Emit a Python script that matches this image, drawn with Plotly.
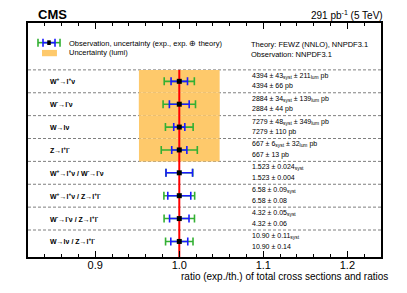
import numpy as np
import plotly.graph_objects as go

# ---------------- data ----------------
labels = [
    "W<sup>+</sup>→l<sup>+</sup>ν",
    "W<sup>-</sup>→l<sup>-</sup>ν",
    "W→lν",
    "Z→l<sup>+</sup>l<sup>-</sup>",
    "W<sup>+</sup>→l<sup>+</sup>ν / W<sup>-</sup>→l<sup>-</sup>ν",
    "W<sup>+</sup>→l<sup>+</sup>ν / Z→l<sup>+</sup>l<sup>-</sup>",
    "W<sup>-</sup>→l<sup>-</sup>ν / Z→l<sup>+</sup>l<sup>-</sup>",
    "W→lν / Z→l<sup>+</sup>l<sup>-</sup>",
]
values = [4394, 2884, 7279, 667, 1.523, 6.58, 4.32, 10.90]
decimals = [0, 0, 0, 0, 3, 2, 2, 2]
syst = [43, 34, 48, 6, 0.024, 0.09, 0.05, 0.11]
lumi = [211, 139, 349, 32, None, None, None, None]
theory = [66, 44, 110, 13, 0.004, 0.08, 0.06, 0.14]
ratio = [1.0, 1.0, 1.0, 1.0, 1.0, 1.0, 1.0, 1.0]

x_range = [0.82, 1.24]
y_range = [-7.68, 2.55]

FONT = "Liberation Sans, Arial, sans-serif"
GREEN = "#33b033"
BLUE = "#1a1aff"
ORANGE = "#fec96b"

n = len(labels)
ypos = -np.arange(n)
vals = np.array(values, dtype=float)
rel_exp = np.array(syst) / vals
rel_tot = np.hypot(np.array(syst), np.array(theory)) / vals

fig = go.Figure()

# dashed separators
for i in range(n):
    fig.add_shape(type="line", xref="paper", x0=0, x1=1, yref="y",
                  y0=ypos[i] + 0.5, y1=ypos[i] + 0.5,
                  line=dict(color="#7f7f7f", width=1, dash="3px,2px"), layer="below")

# lumi uncertainty boxes
for i in range(n):
    if lumi[i] is not None:
        rl = lumi[i] / values[i]
        fig.add_shape(type="rect", xref="x", yref="y",
                      x0=1 - rl, x1=1 + rl, y0=ypos[i] - 0.5, y1=ypos[i] + 0.5,
                      fillcolor=ORANGE, line=dict(width=0), layer="below")

# total uncertainty (green)
fig.add_trace(go.Scatter(
    x=ratio, y=ypos, mode="markers", marker=dict(size=1, color=GREEN, opacity=0),
    error_x=dict(type="data", array=rel_tot, color=GREEN, thickness=1.6, width=4),
    showlegend=False, hoverinfo="skip"))
# experimental uncertainty (blue)
fig.add_trace(go.Scatter(
    x=ratio, y=ypos, mode="markers", marker=dict(size=1, color=BLUE, opacity=0),
    error_x=dict(type="data", array=rel_exp, color=BLUE, thickness=1.6, width=4),
    showlegend=False, hoverinfo="skip"))
# reference line at ratio 1
fig.add_trace(go.Scatter(
    x=[1.0, 1.0], y=[y_range[0], ypos[0] + 0.5], mode="lines",
    line=dict(color="#ff0000", width=2), showlegend=False, hoverinfo="skip"))
# central points
fig.add_trace(go.Scatter(
    x=ratio, y=ypos, mode="markers",
    marker=dict(symbol="square", size=5, color="black"),
    showlegend=False))

ann = []
# row labels and numbers
for i in range(n):
    ann.append(dict(x=0.057, xref="paper", y=ypos[i], yref="y", text="<b>" + labels[i] + "</b>",
                    showarrow=False, xanchor="left", yanchor="middle",
                    font=dict(family=FONT, size=7, color="black")))
    d = decimals[i]
    v = f"{values[i]:.{d}f}"
    s = f"{syst[i]:.{d}f}" if d > 0 else f"{syst[i]}"
    t = f"{theory[i]:.{d}f}" if d > 0 else f"{theory[i]}"
    if lumi[i] is not None:
        l1 = f"{v} ± {s}<sub>syst</sub> ± {lumi[i]}<sub>lum</sub> pb"
        l2 = f"{v} ± {t} pb"
    else:
        l1 = f"{v} ± {s}<sub>syst</sub>"
        l2 = f"{v} ± {t}"
    ann.append(dict(x=0.63, xref="paper", y=ypos[i] + 0.24, yref="y", text=l1,
                    showarrow=False, xanchor="left", yanchor="middle", align="left",
                    font=dict(family=FONT, size=7, color="black")))
    ann.append(dict(x=0.63, xref="paper", y=ypos[i] - 0.22, yref="y", text=l2,
                    showarrow=False, xanchor="left", yanchor="middle", align="left",
                    font=dict(family=FONT, size=7, color="black")))

# header texts
ann += [
    dict(x=0.022, xref="paper", y=1.036, yref="paper", text="<b>CMS</b>", showarrow=False,
         xanchor="left", yanchor="middle", font=dict(family=FONT, size=13, color="black")),
    dict(x=1.012, xref="paper", y=1.036, yref="paper", text="291 pb<sup>-1</sup> (5 TeV)",
         showarrow=False, xanchor="right", yanchor="middle",
         font=dict(family=FONT, size=10, color="black")),
    dict(x=0.11, xref="paper", y=0.914, yref="paper",
         text="Observation, uncertainty (exp., exp. ⊕ theory)", showarrow=False,
         xanchor="left", yanchor="middle", font=dict(family=FONT, size=7.5, color="black")),
    dict(x=0.11, xref="paper", y=0.874, yref="paper", text="Uncertainty (lumi)",
         showarrow=False, xanchor="left", yanchor="middle",
         font=dict(family=FONT, size=7.5, color="black")),
    dict(x=0.627, xref="paper", y=0.906, yref="paper", text="Theory: FEWZ (NNLO), NNPDF3.1",
         showarrow=False, xanchor="left", yanchor="middle",
         font=dict(family=FONT, size=7.5, color="black")),
    dict(x=0.627, xref="paper", y=0.866, yref="paper", text="Observation: NNPDF3.1",
         showarrow=False, xanchor="left", yanchor="middle",
         font=dict(family=FONT, size=7.5, color="black")),
    dict(x=1.025, xref="paper", y=-0.082, yref="paper",
         text="ratio (exp./th.) of total cross sections and ratios", showarrow=False,
         xanchor="right", yanchor="middle", font=dict(family=FONT, size=10, color="black")),
]

# legend icon
ly = 0.916
shapes_leg = [
    dict(type="line", xref="paper", yref="paper", x0=0.0283, x1=0.0907, y0=ly, y1=ly,
         line=dict(color=GREEN, width=1.6)),
    dict(type="line", xref="paper", yref="paper", x0=0.0425, x1=0.0765, y0=ly, y1=ly,
         line=dict(color=BLUE, width=1.6)),
    dict(type="line", xref="paper", yref="paper", x0=0.0283, x1=0.0283, y0=ly - 0.017, y1=ly + 0.017,
         line=dict(color=GREEN, width=1.6)),
    dict(type="line", xref="paper", yref="paper", x0=0.0907, x1=0.0907, y0=ly - 0.017, y1=ly + 0.017,
         line=dict(color=GREEN, width=1.6)),
    dict(type="line", xref="paper", yref="paper", x0=0.0425, x1=0.0425, y0=ly - 0.017, y1=ly + 0.017,
         line=dict(color=BLUE, width=1.6)),
    dict(type="line", xref="paper", yref="paper", x0=0.0765, x1=0.0765, y0=ly - 0.017, y1=ly + 0.017,
         line=dict(color=BLUE, width=1.6)),
    dict(type="rect", xref="paper", yref="paper", x0=0.0545, x1=0.0645, y0=ly - 0.01, y1=ly + 0.01,
         fillcolor="black", line=dict(width=0)),
    dict(type="rect", xref="paper", yref="paper", x0=0.0397, x1=0.082, y0=0.858, y1=0.885,
         fillcolor=ORANGE, line=dict(width=0)),
]
for s in shapes_leg:
    fig.add_shape(**s)

# page body has an 8px margin: shrink the figure so the plot frame lands where it should
fig.update_layout(
    width=399, height=285,
    margin=dict(l=20, r=26, t=15, b=36),
    paper_bgcolor="white", plot_bgcolor="white",
    annotations=ann,
    showlegend=False,
    xaxis=dict(range=x_range, tick0=0.9, dtick=0.1, tickformat=".1f",
               ticks="inside", ticklen=6, tickwidth=1, tickcolor="black",
               ticklabelstandoff=-3,
               minor=dict(dtick=0.02, ticks="inside", ticklen=3, tickcolor="black"),
               showgrid=False, zeroline=False,
               showline=True, linecolor="black", linewidth=2, mirror="allticks",
               tickfont=dict(family=FONT, size=11, color="black")),
    yaxis=dict(range=y_range, showticklabels=False, ticks="", showgrid=False,
               zeroline=False, showline=True, linecolor="black", linewidth=2, mirror=True),
)

fig.write_html("out.html")
